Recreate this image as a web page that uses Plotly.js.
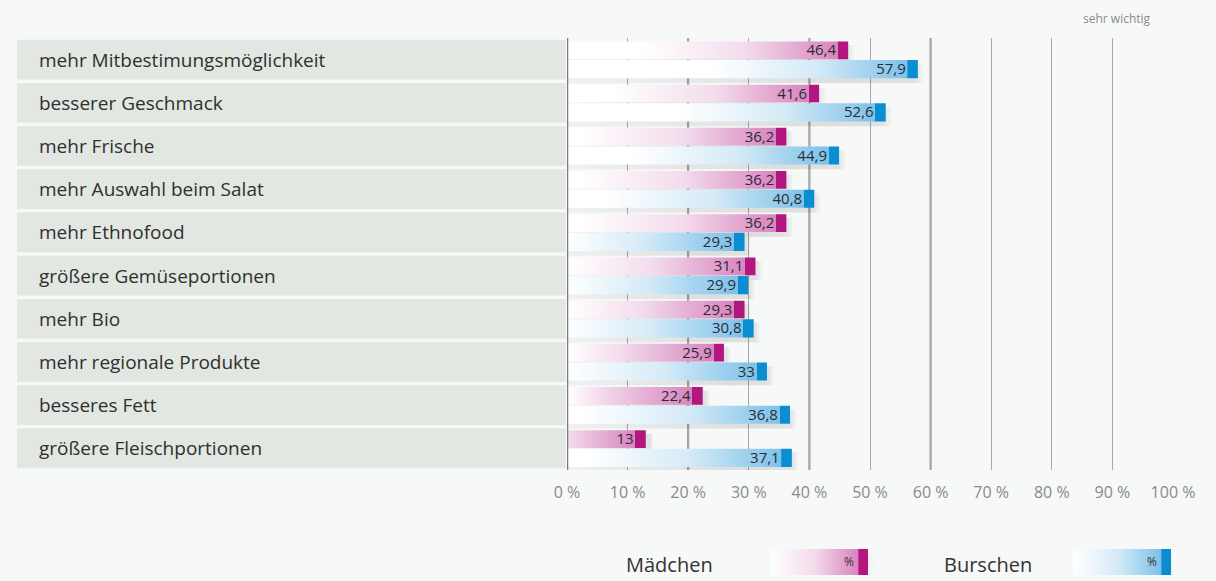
<!DOCTYPE html>
<html>
<head>
<meta charset="utf-8">
<script src="https://cdn.plot.ly/plotly-3.0.1.min.js"></script>
<style>
  html, body { margin: 0; padding: 0; background: #f6f9f7; }
  #chart { width: 1216px; height: 581px; }
</style>
</head>
<body>
<div id="chart"></div>
<script>
// ---- data ----
const categories = [
  "mehr Mitbestimungsmöglichkeit",
  "besserer Geschmack",
  "mehr Frische",
  "mehr Auswahl beim Salat",
  "mehr Ethnofood",
  "größere Gemüseportionen",
  "mehr Bio",
  "mehr regionale Produkte",
  "besseres Fett",
  "größere Fleischportionen"
];
const maedchen = [46.4, 41.6, 36.2, 36.2, 36.2, 31.1, 29.3, 25.9, 22.4, 13];
const burschen = [57.9, 52.6, 44.9, 40.8, 29.3, 29.9, 30.8, 33, 36.8, 37.1];
const tickVals = [0, 10, 20, 30, 40, 50, 60, 70, 80, 90, 100];
const tickText = ["0 %", "10 %", "20 %", "30 %", "40 %", "50 %", "60 %", "70 %", "80 %", "90 %", "100 %"];
const seriesNames = ["Mädchen", "Burschen"];
const topLabel = "sehr wichtig";

// ---- styles ----
const styles = [
  { light: "#f3dcec", mid: "#d884bf", dark: "#b3177f", y0: -0.42, y1: -0.01 },
  { light: "#d6ebf7", mid: "#7cc1ea", dark: "#0b8ed1", y0: 0.01, y1: 0.43 }
];
const FONT = "Open Sans, sans-serif";
const yDomain = [0.1985, 1];
const fmt = v => String(v).replace(".", ",");

function gradScale(v, st) {
  const cap = 1.7, eps = 0.0005;
  const c = p => Math.max(0, Math.min(1, p));
  const pts = [[0, "rgba(255,255,255,1)"]];
  const pWhite = c((v - 34) / v);
  if (pWhite > 0.01) pts.push([pWhite, "rgba(255,255,255,1)"]);
  const pLight = Math.max(c((v - 17) / v), pts[pts.length - 1][0] + eps);
  pts.push([pLight, st.light]);
  const pCap = c((v - cap) / v);
  pts.push([Math.max(pCap - eps, pLight + eps), st.mid]);
  pts.push([Math.max(pCap, pLight + 2 * eps), st.dark]);
  pts.push([1, st.dark]);
  return pts;
}

const traces = [];
[maedchen, burschen].forEach((vals, s) => {
  const st = styles[s];
  vals.forEach((v, i) => {
    // soft shadow
    traces.push({
      type: "scatter", mode: "lines", hoverinfo: "skip", showlegend: false,
      x: [0, v + 1.2, v + 1.2, 0, 0],
      y: [i + st.y0 + 0.08, i + st.y0 + 0.08, i + st.y1 + 0.11, i + st.y1 + 0.11, i + st.y0 + 0.08],
      fill: "toself", line: { width: 0 },
      fillgradient: { type: "horizontal", start: 0, stop: v + 1.2,
        colorscale: [[0, "rgba(0,0,0,0.03)"], [0.8, "rgba(0,0,0,0.11)"], [0.97, "rgba(0,0,0,0.09)"], [1, "rgba(0,0,0,0.0)"]] }
    });
    traces.push({
      type: "scatter", mode: "lines", hoverinfo: "skip", showlegend: false,
      x: [0, v, v, 0, 0],
      y: [i + st.y0, i + st.y0, i + st.y1, i + st.y1, i + st.y0],
      fill: "toself", line: { width: 0 },
      fillgradient: { type: "horizontal", start: 0, stop: v, colorscale: gradScale(v, st) }
    });
  });
});
[maedchen, burschen].forEach((vals, s) => {
  const st = styles[s];
  traces.push({
    type: "scatter", mode: "text", hoverinfo: "skip", showlegend: false, cliponaxis: false,
    x: vals.map(v => v - 2.0),
    y: vals.map((v, i) => i + (st.y0 + st.y1) / 2 + 0.03),
    text: vals.map(fmt),
    textposition: "middle left",
    textfont: { family: FONT, size: 15, color: "#2b2b35" }
  });
});

// legend swatches on a helper axis
const legendPos = [[770, 868], [1073, 1171]];
legendPos.forEach((p, s) => {
  const st = styles[s];
  traces.push({
    type: "scatter", mode: "lines", hoverinfo: "skip", showlegend: false, xaxis: "x2", yaxis: "y2",
    x: [p[0] + 8, p[1] + 7, p[1] + 7, p[0] + 8, p[0] + 8], y: [-0.3, -0.3, 0.8, 0.8, -0.3],
    fill: "toself", line: { width: 0 },
    fillgradient: { type: "horizontal", start: p[0], stop: p[1] + 7,
      colorscale: [[0, "rgba(0,0,0,0.0)"], [0.8, "rgba(0,0,0,0.10)"], [1, "rgba(0,0,0,0)"]] }
  });
  traces.push({
    type: "scatter", mode: "lines", hoverinfo: "skip", showlegend: false, xaxis: "x2", yaxis: "y2",
    x: [p[0], p[1], p[1], p[0], p[0]], y: [0, 0, 1, 1, 0],
    fill: "toself", line: { width: 0 },
    fillgradient: { type: "horizontal", start: p[0], stop: p[1],
      colorscale: [[0, "rgba(255,255,255,1)"], [0.45, st.light], [0.9, st.mid], [0.905, st.dark], [1, st.dark]] }
  });
});

// shapes: label boxes + emphasized grid lines
const shapes = [];
categories.forEach((c, i) => {
  shapes.push({ type: "rect", xref: "paper", yref: "y", x0: -0.9076, x1: -0.002,
    y0: i - 0.46, y1: i + 0.46, fillcolor: "#e2e7e1", line: { width: 0 }, layer: "below" });
});
[20, 40, 60].forEach(g => shapes.push({ type: "line", xref: "x", yref: "paper", x0: g, x1: g,
  y0: yDomain[0], y1: yDomain[1], line: { color: "#8e8e8e", width: 2 }, layer: "below" }));
shapes.push({ type: "line", xref: "x", yref: "paper", x0: 0, x1: 0, y0: yDomain[0], y1: yDomain[1],
  line: { color: "#7a7a7a", width: 2.5 }, layer: "above" });

const annotations = categories.map((c, i) => ({
  xref: "paper", yref: "y", x: -0.8746, y: i, xanchor: "left", yanchor: "middle",
  text: c, showarrow: false, font: { family: FONT, size: 19, color: "#303030" }
}));
annotations.push({ xref: "paper", yref: "paper", x: 0.9076, y: 1.037, xanchor: "center", yanchor: "middle",
  text: topLabel, showarrow: false, font: { family: FONT, size: 12, color: "#8a8a8a" } });
annotations.push({ xref: "x2", yref: "y2", x: 625, y: 0.42, xanchor: "left", yanchor: "middle",
  text: seriesNames[0], showarrow: false, borderpad: 0, font: { family: FONT, size: 20, color: "#333" } });
annotations.push({ xref: "x2", yref: "y2", x: 943, y: 0.42, xanchor: "left", yanchor: "middle",
  text: seriesNames[1], showarrow: false, borderpad: 0, font: { family: FONT, size: 20, color: "#333" } });
legendPos.forEach(p => annotations.push({ xref: "x2", yref: "y2", x: p[1] - 12, y: 0.5, xanchor: "right", yanchor: "middle",
  text: "%", showarrow: false, font: { family: FONT, size: 12, color: "#333" } }));

const layout = {
  width: 1216, height: 581,
  margin: { l: 567, r: 43, t: 38, b: 4 },
  paper_bgcolor: "#f6f9f7", plot_bgcolor: "rgba(0,0,0,0)",
  showlegend: false,
  xaxis: {
    range: [0, 100], domain: [0, 1], anchor: "y",
    tickvals: tickVals, ticktext: tickText, ticks: "outside", ticklen: 8, tickcolor: "rgba(0,0,0,0)",
    tickfont: { family: FONT, size: 16, color: "#8a8a8a" },
    showgrid: true, gridcolor: "#a8a8a8", gridwidth: 1,
    zeroline: false, showline: false, fixedrange: true
  },
  yaxis: {
    range: [9.5, -0.5], domain: yDomain, anchor: "x",
    showticklabels: false, showgrid: false, zeroline: false, ticks: "", fixedrange: true
  },
  xaxis2: { domain: [0, 1], range: [567, 1173], anchor: "y2", visible: false, fixedrange: true },
  yaxis2: { domain: [0.0037, 0.052], range: [0, 1], anchor: "x2", visible: false, fixedrange: true },
  shapes: shapes,
  annotations: annotations
};

Plotly.newPlot("chart", traces, layout, { displayModeBar: false, staticPlot: true });
</script>
</body>
</html>
